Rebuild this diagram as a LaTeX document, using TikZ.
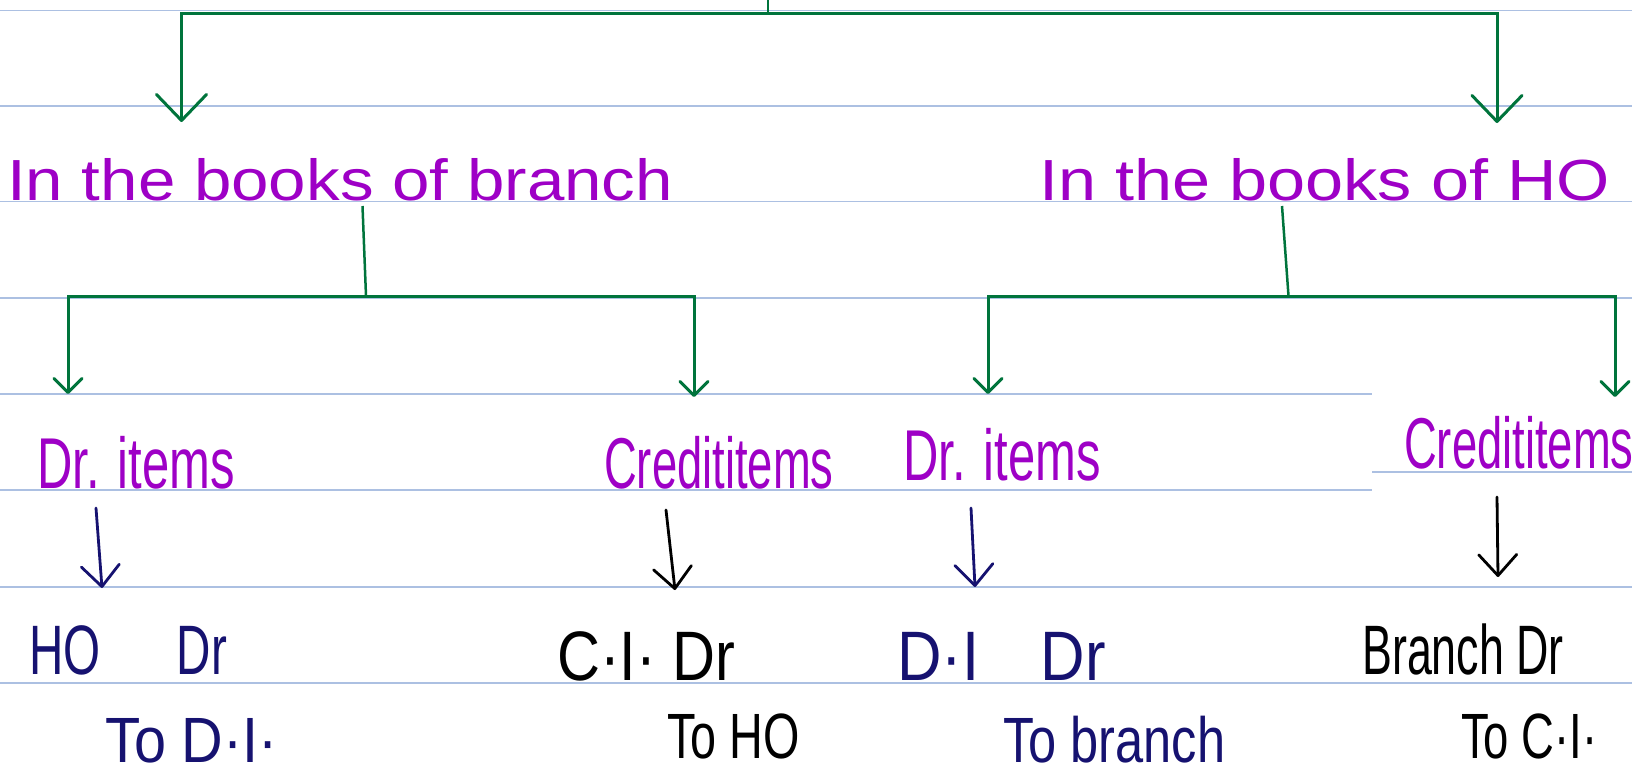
\documentclass[tikz,border=0pt]{standalone}
\usepackage{fontspec}
\setmainfont{Liberation Sans}
\usepackage{xcolor}
\usetikzlibrary{arrows.meta}

\definecolor{inkgreen}{RGB}{0,116,60}
\definecolor{inkpurple}{RGB}{158,0,198}
\definecolor{inknavy}{RGB}{22,18,112}
\definecolor{ruleblue}{RGB}{172,192,226}

\begin{document}
\begin{tikzpicture}[
	%	style def
	x=1pt, y=-1pt,
	ruled/.style={ruleblue, line width=1.4pt},
	tree/.style={inkgreen, line width=3pt},
	big tip/.style={-{Straight Barb[round,length=26pt,width=50pt]}},
	small tip/.style={-{Straight Barb[round,length=14pt,width=28pt]}},
	pen/.style={line width=2.8pt, line cap=round, -{Straight Barb[round,length=21pt,width=38pt]}},
	heading/.style={inkpurple, inner sep=0pt, anchor=base west, font=\fontsize{58}{60}\selectfont},
	items/.style={inkpurple, inner sep=0pt, anchor=base west, font=\fontsize{72}{74}\selectfont},
	entry/.style={inner sep=0pt, anchor=base west, font=\fontsize{70}{72}\selectfont},
	narration/.style={inner sep=0pt, anchor=base west, font=\fontsize{64}{66}\selectfont}
	]

	% page with ruled lines
	\useasboundingbox (0,0) rectangle (1632,776);
	\fill[white] (0,0) rectangle (1632,776);
	\foreach \y in {10.7,106,201.7,298,587,683}
		\draw[ruled] (0,\y) -- (1632,\y);
	\foreach \y in {394,490}
		\draw[ruled] (0,\y) -- (1372,\y);
	\draw[ruled] (1372,472) -- (1632,472);

	% headings
	\node[heading] (branchbk) at (7,200) {\scalebox{1.16}[1]{In the books of branch}};
	\node[heading] (hobk) at (1039,200) {\scalebox{1.18}[1]{In the books of HO}};

	% debit / credit items
	\node[items] (brdr) at (37,488) {\scalebox{0.68}[1]{Dr. items}};
	\node[items] (brcr) at (604,488) {\scalebox{0.63}[1]{Credititems}};
	\node[items] (hodr) at (903,480) {\scalebox{0.68}[1]{Dr. items}};
	\node[items] (hocr) at (1404,468) {\scalebox{0.63}[1]{Credititems}};

	% journal entries
	\node[entry, inknavy] (brdrentry) at (29,674) {\scalebox{0.68}[1]{HO\hspace{1.6em}Dr}};
	\node[entry] (brcrentry) at (557,680) {\scalebox{0.85}[1]{C·I· Dr}};
	\node[entry, inknavy] (hodrentry) at (897,680) {\scalebox{0.88}[1]{D·I\hspace{1em}Dr}};
	\node[entry] (hocrentry) at (1362,674) {\scalebox{0.64}[1]{Branch Dr}};

	\node[narration, inknavy] (brdrto) at (105,762) {\scalebox{0.9}[1]{To D·I·}};
	\node[narration] (brcrto) at (667,758) {\scalebox{0.73}[1]{To HO}};
	\node[narration, inknavy] (hodrto) at (1003,762) {\scalebox{0.79}[1]{To branch}};
	\node[narration] (hocrto) at (1461,758) {\scalebox{0.71}[1]{To C·I·}};

	% top split
	\coordinate (root) at (768,0);
	\coordinate (split) at (768,14);
	\draw[tree, line width=2pt] (root) -- (split);
	\draw[tree, big tip] (split) -| ([shift={(174.5,-78)}]branchbk.base west);
	\draw[tree, big tip] (split) -| ([shift={(458,-77)}]hobk.base west);

	% branch side
	\coordinate (brhub) at (366,296);
	\draw[tree, line width=2.5pt] ([shift={(355.5,6)}]branchbk.base west) -- (brhub);
	\draw[tree, small tip] (brhub) -| ([shift={(31,-94)}]brdr.base west);
	\draw[tree, small tip] (brhub) -| ([shift={(90,-91)}]brcr.base west);

	% HO side
	\coordinate (hohub) at (1288.5,296);
	\draw[tree, line width=2.5pt] ([shift={(243,6)}]hobk.base west) -- (hohub);
	\draw[tree, small tip] (hohub) -| ([shift={(85,-86)}]hodr.base west);
	\draw[tree, small tip] (hohub) -| ([shift={(211,-71)}]hocr.base west);

	% items down to entries
	\draw[pen, inknavy] ([shift={(59,20)}]brdr.base west) -- ([shift={(73,-86)}]brdrentry.base west);
	\draw[pen] ([shift={(62,22)}]brcr.base west) -- ([shift={(118,-90)}]brcrentry.base west);
	\draw[pen, inknavy] ([shift={(68,28)}]hodr.base west) -- ([shift={(78,-93)}]hodrentry.base west);
	\draw[pen] ([shift={(93,29)}]hocr.base west) -- ([shift={(136,-97)}]hocrentry.base west);

\end{tikzpicture}
\end{document}
